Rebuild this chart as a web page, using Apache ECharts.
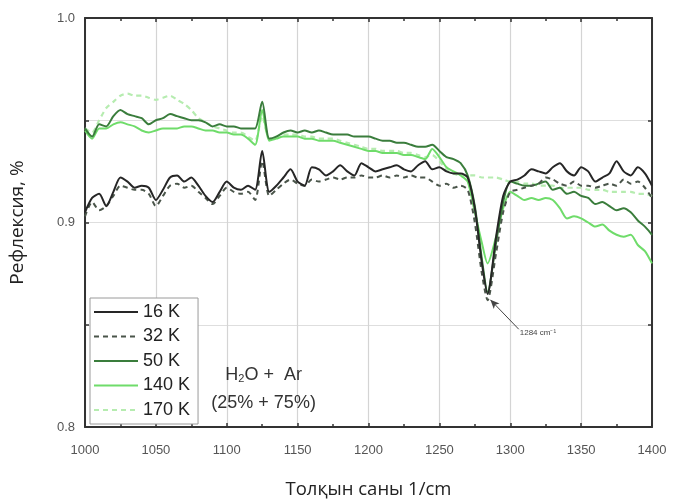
<!DOCTYPE html>
<html><head><meta charset="utf-8">
<script src="https://cdn.jsdelivr.net/npm/echarts@6/dist/echarts.min.js"></script>
<style>html,body{margin:0;padding:0;background:#fff}#c{width:673px;height:504px}</style>
</head><body><div id="c"></div>
<script>
const wavenumbers = [
1000,1005,1010,1015,1020,1025,1030,1035,1040,1045,
1050,1055,1060,1065,1070,1075,1080,1085,1090,1095,
1100,1105,1110,1115,1120,1125,1130,1135,1140,1145,
1150,1155,1160,1165,1170,1175,1180,1185,1190,1195,
1200,1205,1210,1215,1220,1225,1230,1235,1240,1245,
1250,1255,1260,1265,1270,1275,1280,1284,1290,1295,
1300,1305,1310,1315,1320,1325,1330,1335,1340,1345,
1350,1355,1360,1365,1370,1375,1380,1385,1390,1395,
1400];
const r16K = [
.905,.912,.914,.908,.915,.922,.920,.917,.918,.917,
.911,.916,.922,.923,.920,.922,.918,.913,.910,.915,
.920,.917,.916,.918,.916,.935,.915,.918,.922,.926,
.920,.918,.927,.926,.923,.925,.928,.925,.923,.929,
.927,.925,.926,.927,.928,.926,.925,.928,.930,.926,
.927,.925,.924,.924,.922,.907,.880,.865,.893,.913,
.920,.921,.923,.926,.925,.924,.927,.929,.925,.923,
.927,.925,.920,.922,.924,.930,.925,.923,.927,.924,
.918];
const r32K = [
.903,.910,.906,.908,.913,.918,.917,.916,.916,.914,
.908,.913,.918,.919,.917,.918,.915,.912,.909,.913,
.917,.915,.914,.915,.911,.930,.913,.916,.919,.921,
.919,.918,.921,.920,.921,.922,.921,.922,.922,.923,
.922,.922,.923,.922,.923,.922,.923,.922,.922,.920,
.918,.919,.917,.918,.916,.900,.875,.862,.885,.905,
.915,.916,.917,.918,.919,.922,.921,.919,.918,.920,
.918,.918,.917,.918,.919,.918,.921,.919,.920,.917,
.912];
const r50K = [
.946,.942,.948,.947,.952,.955,.953,.952,.951,.948,
.950,.951,.953,.952,.951,.950,.950,.949,.947,.948,
.947,.947,.946,.946,.946,.959,.941,.942,.944,.945,
.944,.945,.944,.945,.944,.943,.943,.943,.942,.942,
.942,.941,.940,.940,.939,.939,.938,.937,.937,.938,
.935,.932,.931,.929,.923,.908,.882,.866,.890,.910,
.920,.919,.918,.918,.919,.920,.916,.917,.914,.915,
.913,.912,.909,.910,.908,.906,.907,.905,.901,.898,
.894];
const r140K = [
.945,.941,.946,.946,.948,.949,.948,.947,.945,.944,
.945,.946,.946,.946,.947,.947,.946,.945,.945,.944,
.944,.943,.943,.941,.938,.955,.940,.941,.942,.942,
.942,.941,.941,.940,.940,.940,.939,.938,.937,.936,
.935,.935,.934,.934,.934,.933,.933,.932,.931,.936,
.932,.927,.925,.923,.920,.905,.890,.880,.893,.907,
.915,.913,.911,.912,.911,.912,.911,.907,.902,.903,
.902,.900,.898,.899,.896,.894,.893,.894,.889,.886,
.880];
const r170K = [
.946,.944,.950,.956,.959,.962,.963,.962,.962,.961,
.960,.961,.962,.960,.958,.955,.951,.949,.947,.946,
.945,.944,.944,.942,.940,.952,.941,.942,.943,.943,
.943,.942,.942,.941,.941,.941,.940,.939,.938,.937,
.936,.936,.935,.935,.935,.934,.934,.933,.932,.933,
.930,.926,.924,.923,.923,.923,.922,.922,.922,.921,
.920,.920,.919,.919,.918,.918,.918,.917,.917,.917,
.917,.916,.916,.916,.915,.915,.915,.915,.914,.914,
.913];
const seriesNames = ['16 K','32 K','50 K','140 K','170 K'];
const xTicks = {min:1000, max:1400, interval:50};
const yTicks = {min:0.8, max:1.0, interval:0.05};
const annotArrowWn = [1306, 1286];
const annotArrowVal = [0.8478, 0.8622];
const annotText = '1284 cm\u207B\u00B9';
const mixWn = 1126;
const mixVal = [0.8255, 0.8115];

function pairs(vals){ return wavenumbers.map((w,i)=>[w, vals[i]]); }

const chart = echarts.init(document.getElementById('c'), null, {renderer:'canvas'});
const axisCol = '#333';
const tickFont = {fontFamily:'Liberation Sans, Arial, sans-serif', fontSize:13, color:'#555'};
function mk(name, vals, color, dashed, width){
  return {name, type:'line', data:pairs(vals), symbol:'none', smooth:0.25,
    lineStyle:{color, width:width||2, type: dashed?[5,4]:'solid'}, itemStyle:{color}};
}
const series = [
  mk('170 K', r170K, '#b6ecb0', true, 2.2),
  mk('140 K', r140K, '#6fdc6a', false, 2),
  mk('50 K', r50K, '#3a7d3c', false, 2),
  mk('32 K', r32K, '#4a554a', true, 2),
  mk('16 K', r16K, '#262626', false, 2)
];
series[4].markLine = {silent:true, symbol:['none','arrow'], symbolSize:[6,9],
  lineStyle:{color:'#444', width:1, type:'solid'}, label:{show:false},
  data:[[{coord:[annotArrowWn[0], annotArrowVal[0]]},{coord:[annotArrowWn[1], annotArrowVal[1]]}]]};

chart.setOption({
  animation:false,
  backgroundColor:'#fff',
  grid:{left:85, right:21, top:18, bottom:72},
  legend:{data:seriesNames, orient:'vertical', left:90, top:298, padding:[5,8,5,3],
    itemWidth:44, itemHeight:18, itemGap:6.5,
    itemStyle:{opacity:0},
    borderColor:'#9a9a9a', borderWidth:1, backgroundColor:'#fff',
    textStyle:{fontFamily:'Liberation Sans, Arial, sans-serif', fontSize:18, color:'#222', lineHeight:18}},
  xAxis:[{type:'value', min:xTicks.min, max:xTicks.max, interval:xTicks.interval,
    name:'Толқын саны 1/cm', nameLocation:'middle', nameGap:53,
    nameTextStyle:{fontFamily:'Open Sans, Noto Sans, sans-serif', fontSize:18.5, color:'#222'},
    axisLine:{lineStyle:{color:axisCol, width:2}},
    axisTick:{inside:true, length:4, lineStyle:{color:axisCol, width:1.5}},
    minorTick:{show:true, splitNumber:2, length:3, lineStyle:{color:axisCol, width:1.5}},
    axisLabel:Object.assign({margin:17, formatter:v=>String(v)}, tickFont),
    splitLine:{show:true, lineStyle:{color:'#d4d4d4', width:1.2}}},
   {type:'value', position:'top', min:xTicks.min, max:xTicks.max, interval:xTicks.interval,
    axisLine:{lineStyle:{color:axisCol, width:2}},
    axisTick:{inside:true, length:4, lineStyle:{color:axisCol, width:1.5}},
    minorTick:{show:true, splitNumber:2, length:3, lineStyle:{color:axisCol, width:1.5}},
    axisLabel:{show:false}, splitLine:{show:false}}],
  yAxis:[{type:'value', min:yTicks.min, max:yTicks.max, interval:yTicks.interval,
    name:'Рефлексия, %', nameLocation:'middle', nameGap:58,
    nameTextStyle:{fontFamily:'Open Sans, Noto Sans, sans-serif', fontSize:19, color:'#222'},
    axisLine:{show:true, lineStyle:{color:axisCol, width:2}},
    axisTick:{show:true, inside:true, length:4, lineStyle:{color:axisCol, width:1.5}},
    axisLabel:Object.assign({margin:10, formatter:v=>{const t=v*10; return Math.abs(t-Math.round(t))<1e-6? v.toFixed(1):'';}}, tickFont),
    splitLine:{show:true, lineStyle:{color:'#dedede', width:1.2}}},
   {type:'value', position:'right', min:yTicks.min, max:yTicks.max, interval:yTicks.interval,
    axisLine:{show:true, lineStyle:{color:axisCol, width:2}},
    axisTick:{show:true, inside:true, length:4, lineStyle:{color:axisCol, width:1.5}},
    axisLabel:{show:false}, splitLine:{show:false}}],
  series
});

const pLabel = chart.convertToPixel({xAxisIndex:0, yAxisIndex:0}, [annotArrowWn[0], annotArrowVal[0]]);
const pMix1 = chart.convertToPixel({xAxisIndex:0, yAxisIndex:0}, [mixWn, mixVal[0]]);
const pMix2 = chart.convertToPixel({xAxisIndex:0, yAxisIndex:0}, [mixWn, mixVal[1]]);
chart.setOption({graphic:[
  {type:'text', x:pLabel[0]+1, y:pLabel[1]+4, style:{text:annotText, font:'8px Liberation Sans, Arial, sans-serif', fill:'#444', textAlign:'left', textVerticalAlign:'middle'}},
  {type:'text', x:pMix1[0], y:pMix1[1], style:{text:'{a|H}{s|2}{a|O +  Ar}', textAlign:'center', textVerticalAlign:'middle',
    rich:{a:{fontFamily:'Liberation Sans, Arial, sans-serif', fontSize:18, fill:'#333'}, s:{fontFamily:'Liberation Sans, Arial, sans-serif', fontSize:11, fill:'#333', padding:[9,0,0,0]}}}},
  {type:'text', x:pMix2[0], y:pMix2[1], style:{text:'(25% + 75%)', font:'18px Liberation Sans, Arial, sans-serif', fill:'#333', textAlign:'center', textVerticalAlign:'middle'}}
]});
</script></body></html>
